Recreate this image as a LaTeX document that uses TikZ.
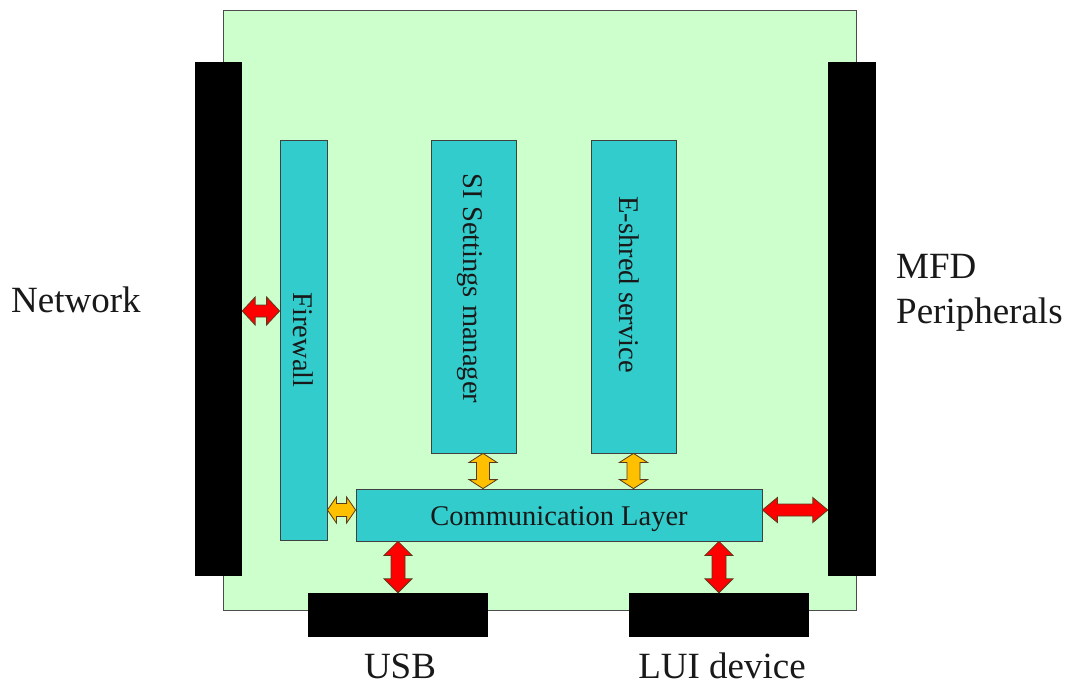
\documentclass[tikz,border=0pt]{standalone}
\usepackage{fontspec}
\setmainfont{Liberation Serif}
\usetikzlibrary{calc}
\definecolor{boardgreen}{HTML}{CCFFCC}
\definecolor{tealbox}{HTML}{33CCCC}
\definecolor{arrred}{HTML}{FF0000}
\definecolor{arryel}{HTML}{FFC000}
\definecolor{arredge}{HTML}{5A3A1A}
\tikzset{
  board/.style={draw=black!70, line width=0.8pt, fill=boardgreen},
  bar/.style={fill=black, draw=none},
  module/.style={draw=black!75, line width=0.8pt, fill=tealbox},
  redarrow/.style={fill=arrred, draw=arredge, line width=0.8pt, line join=miter},
  yelarrow/.style={fill=arryel, draw=arredge, line width=0.8pt, line join=miter},
  lbl/.style={font=\fontsize{37}{45}\selectfont, text=black!90, inner sep=0pt},
  modtext/.style={font=\fontsize{28.5}{32}\selectfont, text=black!90, inner sep=0pt}
}
% #1 style, #2 start, #3 end, #4 shaft half, #5 head half, #6 head length
\newcommand{\blockarrow}[6]{%
  \coordinate (ba1) at ($(#2)!#6!(#3)$);
  \coordinate (ba2) at ($(#3)!#6!(#2)$);
  \draw[#1] (#2)
    -- ($(ba1)!#5!90:(#3)$) -- ($(ba1)!#4!90:(#3)$)
    -- ($(ba2)!#4!-90:(#2)$) -- ($(ba2)!#5!-90:(#2)$)
    -- (#3)
    -- ($(ba2)!#5!90:(#2)$) -- ($(ba2)!#4!90:(#2)$)
    -- ($(ba1)!#4!-90:(#3)$) -- ($(ba1)!#5!-90:(#3)$)
    -- cycle;
}
\begin{document}
\begin{tikzpicture}[x=1pt,y=-1pt]
\useasboundingbox (0,0) rectangle (1069,685);
\fill[white] (0,0) rectangle (1069,685);
% board
\draw[board] (223,10) rectangle (856,610);
% bars
\node[bar, minimum width=47pt, minimum height=514pt, inner sep=0pt] (lbar) at (218.5,319) {};
\node[bar, minimum width=48pt, minimum height=514pt, inner sep=0pt] (rbar) at (852,319) {};
\node[bar, minimum width=180pt, minimum height=44pt, inner sep=0pt] (usb) at (398,615) {};
\node[bar, minimum width=180pt, minimum height=44pt, inner sep=0pt] (lui) at (719,615) {};
% modules
\node[module, minimum width=47pt, minimum height=400pt, inner sep=0pt] (fw) at (303.5,340) {};
\node[module, minimum width=85pt, minimum height=313pt, inner sep=0pt] (si) at (473.5,296.5) {};
\node[module, minimum width=85pt, minimum height=313pt, inner sep=0pt] (es) at (633.5,296.5) {};
\node[module, minimum width=406pt, minimum height=52pt, inner sep=0pt] (comm) at (559,515) {};
% module texts
\node[modtext, rotate=-90] at (fw.center) {Firewall};
\node[modtext, rotate=-90] at ($(si.center)+(-4,-8)$) {SI Settings manager};
\node[modtext, rotate=-90] at ($(es.center)+(-4,-12)$) {E-shred service};
\node[modtext] at ($(comm.center)+(0,4)$) {Communication Layer};
% outer labels
\node[lbl, anchor=west] (net) at (11,300) {Network};
\node[lbl, anchor=west, align=left] (mfd) at (896,293) {MFD\\Peripherals};
\node[lbl] (usbl) at (400,666) {USB};
\node[lbl] (luil) at (722,666) {LUI device};
% arrow coordinates
\coordinate (yA) at (0,311);
\coordinate (yB) at (0,510);
\coordinate (xS) at (483,0);
\coordinate (lA) at (lbar.east |- yA);
\coordinate (fA) at (fw.west |- yA);
\coordinate (fB) at (fw.east |- yB);
\coordinate (cBl) at (comm.west |- yB);
\coordinate (cBr) at (comm.east |- yB);
\coordinate (rB) at (rbar.west |- yB);
\coordinate (siS) at (xS |- si.south);
\coordinate (siC) at (xS |- comm.north);
\coordinate (esS) at (es.south);
\coordinate (esC) at (es.south |- comm.north);
\coordinate (usbN) at (usb.north);
\coordinate (usbC) at (usb.north |- comm.south);
\coordinate (luiN) at (lui.north);
\coordinate (luiC) at (lui.north |- comm.south);
% arrows
\blockarrow{redarrow}{lA}{fA}{6pt}{14pt}{13pt}
\blockarrow{yelarrow}{fB}{cBl}{6.5pt}{13pt}{9pt}
\blockarrow{yelarrow}{siS}{siC}{6.5pt}{14pt}{9pt}
\blockarrow{yelarrow}{esS}{esC}{6.5pt}{14pt}{9pt}
\blockarrow{redarrow}{cBr}{rB}{6pt}{12.5pt}{15pt}
\blockarrow{redarrow}{usbC}{usbN}{7pt}{14pt}{14pt}
\blockarrow{redarrow}{luiC}{luiN}{7pt}{14pt}{14pt}
\end{tikzpicture}
\end{document}
